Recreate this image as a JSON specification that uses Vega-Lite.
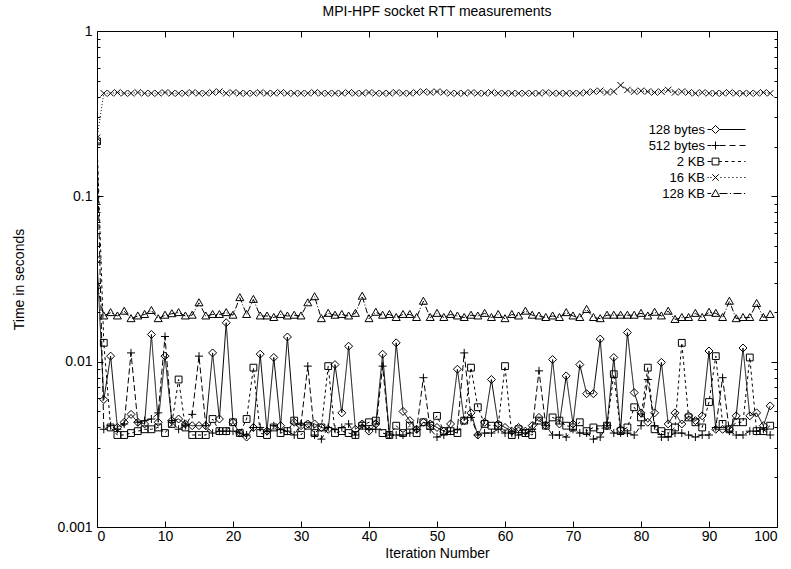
{
  "$schema": "https://vega.github.io/schema/vega-lite/v6.json",
  "width": 680,
  "height": 496,
  "autosize": {"type": "none"},
  "padding": {"left": 97, "top": 31, "right": 14, "bottom": 42},
  "background": "white",
  "title": {"text": "MPI-HPF socket RTT measurements", "font": "Liberation Sans", "fontSize": 14, "fontWeight": "normal", "color": "black", "offset": 5},
  "config": {
    "view": {"stroke": "black", "strokeWidth": 1},
    "axis": {"grid": false, "domain": false, "tickColor": "black", "labelColor": "black", "titleColor": "black", "labelFont": "Liberation Sans", "titleFont": "Liberation Sans", "labelFontSize": 14, "titleFontSize": 14, "titleFontWeight": "normal", "tickWidth": 1},
    "legend": {"labelFont": "Liberation Sans", "labelFontSize": 13, "labelColor": "black"}
  },
  "data": {"values": [
{"i":0,"s":"128 bytes","t":0.0415},{"i":1,"s":"128 bytes","t":0.0059},{"i":2,"s":"128 bytes","t":0.0108},{"i":3,"s":"128 bytes","t":0.0040},{"i":4,"s":"128 bytes","t":0.0043},{"i":5,"s":"128 bytes","t":0.0048},{"i":6,"s":"128 bytes","t":0.0043},{"i":7,"s":"128 bytes","t":0.0042},{"i":8,"s":"128 bytes","t":0.0146},{"i":9,"s":"128 bytes","t":0.0043},
{"i":10,"s":"128 bytes","t":0.0108},{"i":11,"s":"128 bytes","t":0.0044},{"i":12,"s":"128 bytes","t":0.0045},{"i":13,"s":"128 bytes","t":0.0042},{"i":14,"s":"128 bytes","t":0.0041},{"i":15,"s":"128 bytes","t":0.0041},{"i":16,"s":"128 bytes","t":0.0041},{"i":17,"s":"128 bytes","t":0.0113},{"i":18,"s":"128 bytes","t":0.0045},{"i":19,"s":"128 bytes","t":0.0172},
{"i":20,"s":"128 bytes","t":0.0043},{"i":21,"s":"128 bytes","t":0.0037},{"i":22,"s":"128 bytes","t":0.0035},{"i":23,"s":"128 bytes","t":0.0040},{"i":24,"s":"128 bytes","t":0.0111},{"i":25,"s":"128 bytes","t":0.0038},{"i":26,"s":"128 bytes","t":0.0106},{"i":27,"s":"128 bytes","t":0.0041},{"i":28,"s":"128 bytes","t":0.0141},{"i":29,"s":"128 bytes","t":0.0043},
{"i":30,"s":"128 bytes","t":0.0041},{"i":31,"s":"128 bytes","t":0.0042},{"i":32,"s":"128 bytes","t":0.0042},{"i":33,"s":"128 bytes","t":0.0040},{"i":34,"s":"128 bytes","t":0.0039},{"i":35,"s":"128 bytes","t":0.0096},{"i":36,"s":"128 bytes","t":0.0049},{"i":37,"s":"128 bytes","t":0.0124},{"i":38,"s":"128 bytes","t":0.0039},{"i":39,"s":"128 bytes","t":0.0042},
{"i":40,"s":"128 bytes","t":0.0038},{"i":41,"s":"128 bytes","t":0.0042},{"i":42,"s":"128 bytes","t":0.0111},{"i":43,"s":"128 bytes","t":0.0036},{"i":44,"s":"128 bytes","t":0.0130},{"i":45,"s":"128 bytes","t":0.0050},{"i":46,"s":"128 bytes","t":0.0044},{"i":47,"s":"128 bytes","t":0.0039},{"i":48,"s":"128 bytes","t":0.0043},{"i":49,"s":"128 bytes","t":0.0042},
{"i":50,"s":"128 bytes","t":0.0040},{"i":51,"s":"128 bytes","t":0.0038},{"i":52,"s":"128 bytes","t":0.0042},{"i":53,"s":"128 bytes","t":0.0090},{"i":54,"s":"128 bytes","t":0.0044},{"i":55,"s":"128 bytes","t":0.0049},{"i":56,"s":"128 bytes","t":0.0036},{"i":57,"s":"128 bytes","t":0.0043},{"i":58,"s":"128 bytes","t":0.0078},{"i":59,"s":"128 bytes","t":0.0042},
{"i":60,"s":"128 bytes","t":0.0040},{"i":61,"s":"128 bytes","t":0.0038},{"i":62,"s":"128 bytes","t":0.0040},{"i":63,"s":"128 bytes","t":0.0038},{"i":64,"s":"128 bytes","t":0.0041},{"i":65,"s":"128 bytes","t":0.0046},{"i":66,"s":"128 bytes","t":0.0041},{"i":67,"s":"128 bytes","t":0.0103},{"i":68,"s":"128 bytes","t":0.0042},{"i":69,"s":"128 bytes","t":0.0082},
{"i":70,"s":"128 bytes","t":0.0042},{"i":71,"s":"128 bytes","t":0.0096},{"i":72,"s":"128 bytes","t":0.0064},{"i":73,"s":"128 bytes","t":0.0064},{"i":74,"s":"128 bytes","t":0.0137},{"i":75,"s":"128 bytes","t":0.0041},{"i":76,"s":"128 bytes","t":0.0106},{"i":77,"s":"128 bytes","t":0.0039},{"i":78,"s":"128 bytes","t":0.0150},{"i":79,"s":"128 bytes","t":0.0065},
{"i":80,"s":"128 bytes","t":0.0049},{"i":81,"s":"128 bytes","t":0.0043},{"i":82,"s":"128 bytes","t":0.0049},{"i":83,"s":"128 bytes","t":0.0099},{"i":84,"s":"128 bytes","t":0.0042},{"i":85,"s":"128 bytes","t":0.0049},{"i":86,"s":"128 bytes","t":0.0042},{"i":87,"s":"128 bytes","t":0.0047},{"i":88,"s":"128 bytes","t":0.0044},{"i":89,"s":"128 bytes","t":0.0047},
{"i":90,"s":"128 bytes","t":0.0116},{"i":91,"s":"128 bytes","t":0.0039},{"i":92,"s":"128 bytes","t":0.0039},{"i":93,"s":"128 bytes","t":0.0039},{"i":94,"s":"128 bytes","t":0.0047},{"i":95,"s":"128 bytes","t":0.0121},{"i":96,"s":"128 bytes","t":0.0047},{"i":97,"s":"128 bytes","t":0.0049},{"i":98,"s":"128 bytes","t":0.0041},{"i":99,"s":"128 bytes","t":0.0054},
{"i":0,"s":"512 bytes","t":0.21},{"i":1,"s":"512 bytes","t":0.0039},{"i":2,"s":"512 bytes","t":0.0041},{"i":3,"s":"512 bytes","t":0.0039},{"i":4,"s":"512 bytes","t":0.0042},{"i":5,"s":"512 bytes","t":0.0113},{"i":6,"s":"512 bytes","t":0.0043},{"i":7,"s":"512 bytes","t":0.0044},{"i":8,"s":"512 bytes","t":0.0045},{"i":9,"s":"512 bytes","t":0.0049},
{"i":10,"s":"512 bytes","t":0.0142},{"i":11,"s":"512 bytes","t":0.0043},{"i":12,"s":"512 bytes","t":0.0039},{"i":13,"s":"512 bytes","t":0.0041},{"i":14,"s":"512 bytes","t":0.0048},{"i":15,"s":"512 bytes","t":0.0108},{"i":16,"s":"512 bytes","t":0.0041},{"i":17,"s":"512 bytes","t":0.0037},{"i":18,"s":"512 bytes","t":0.0038},{"i":19,"s":"512 bytes","t":0.0038},
{"i":20,"s":"512 bytes","t":0.0038},{"i":21,"s":"512 bytes","t":0.0037},{"i":22,"s":"512 bytes","t":0.0036},{"i":23,"s":"512 bytes","t":0.0040},{"i":24,"s":"512 bytes","t":0.0040},{"i":25,"s":"512 bytes","t":0.0038},{"i":26,"s":"512 bytes","t":0.0041},{"i":27,"s":"512 bytes","t":0.0039},{"i":28,"s":"512 bytes","t":0.0038},{"i":29,"s":"512 bytes","t":0.0036},
{"i":30,"s":"512 bytes","t":0.0042},{"i":31,"s":"512 bytes","t":0.0094},{"i":32,"s":"512 bytes","t":0.0036},{"i":33,"s":"512 bytes","t":0.0034},{"i":34,"s":"512 bytes","t":0.0040},{"i":35,"s":"512 bytes","t":0.0039},{"i":36,"s":"512 bytes","t":0.0040},{"i":37,"s":"512 bytes","t":0.0042},{"i":38,"s":"512 bytes","t":0.0036},{"i":39,"s":"512 bytes","t":0.0041},
{"i":40,"s":"512 bytes","t":0.0039},{"i":41,"s":"512 bytes","t":0.0039},{"i":42,"s":"512 bytes","t":0.0094},{"i":43,"s":"512 bytes","t":0.0036},{"i":44,"s":"512 bytes","t":0.0036},{"i":45,"s":"512 bytes","t":0.0036},{"i":46,"s":"512 bytes","t":0.0037},{"i":47,"s":"512 bytes","t":0.0039},{"i":48,"s":"512 bytes","t":0.0080},{"i":49,"s":"512 bytes","t":0.0039},
{"i":50,"s":"512 bytes","t":0.0035},{"i":51,"s":"512 bytes","t":0.0036},{"i":52,"s":"512 bytes","t":0.0038},{"i":53,"s":"512 bytes","t":0.0039},{"i":54,"s":"512 bytes","t":0.0113},{"i":55,"s":"512 bytes","t":0.0046},{"i":56,"s":"512 bytes","t":0.0036},{"i":57,"s":"512 bytes","t":0.0037},{"i":58,"s":"512 bytes","t":0.0037},{"i":59,"s":"512 bytes","t":0.0039},
{"i":60,"s":"512 bytes","t":0.0037},{"i":61,"s":"512 bytes","t":0.0037},{"i":62,"s":"512 bytes","t":0.0036},{"i":63,"s":"512 bytes","t":0.0037},{"i":64,"s":"512 bytes","t":0.0039},{"i":65,"s":"512 bytes","t":0.0088},{"i":66,"s":"512 bytes","t":0.0041},{"i":67,"s":"512 bytes","t":0.0036},{"i":68,"s":"512 bytes","t":0.0036},{"i":69,"s":"512 bytes","t":0.0035},
{"i":70,"s":"512 bytes","t":0.0039},{"i":71,"s":"512 bytes","t":0.0037},{"i":72,"s":"512 bytes","t":0.0037},{"i":73,"s":"512 bytes","t":0.0034},{"i":74,"s":"512 bytes","t":0.0035},{"i":75,"s":"512 bytes","t":0.0041},{"i":76,"s":"512 bytes","t":0.0037},{"i":77,"s":"512 bytes","t":0.0037},{"i":78,"s":"512 bytes","t":0.0037},{"i":79,"s":"512 bytes","t":0.0036},
{"i":80,"s":"512 bytes","t":0.0041},{"i":81,"s":"512 bytes","t":0.0078},{"i":82,"s":"512 bytes","t":0.0041},{"i":83,"s":"512 bytes","t":0.0035},{"i":84,"s":"512 bytes","t":0.0035},{"i":85,"s":"512 bytes","t":0.0037},{"i":86,"s":"512 bytes","t":0.0037},{"i":87,"s":"512 bytes","t":0.0036},{"i":88,"s":"512 bytes","t":0.0035},{"i":89,"s":"512 bytes","t":0.0036},
{"i":90,"s":"512 bytes","t":0.0036},{"i":91,"s":"512 bytes","t":0.0040},{"i":92,"s":"512 bytes","t":0.0080},{"i":93,"s":"512 bytes","t":0.0038},{"i":94,"s":"512 bytes","t":0.0036},{"i":95,"s":"512 bytes","t":0.0036},{"i":96,"s":"512 bytes","t":0.0038},{"i":97,"s":"512 bytes","t":0.0038},{"i":98,"s":"512 bytes","t":0.0039},{"i":99,"s":"512 bytes","t":0.0036},
{"i":0,"s":"2 KB","t":0.215},{"i":1,"s":"2 KB","t":0.0130},{"i":2,"s":"2 KB","t":0.0040},{"i":3,"s":"2 KB","t":0.0036},{"i":4,"s":"2 KB","t":0.0036},{"i":5,"s":"2 KB","t":0.0037},{"i":6,"s":"2 KB","t":0.0038},{"i":7,"s":"2 KB","t":0.0039},{"i":8,"s":"2 KB","t":0.0039},{"i":9,"s":"2 KB","t":0.0040},
{"i":10,"s":"2 KB","t":0.0037},{"i":11,"s":"2 KB","t":0.0042},{"i":12,"s":"2 KB","t":0.0078},{"i":13,"s":"2 KB","t":0.0040},{"i":14,"s":"2 KB","t":0.0036},{"i":15,"s":"2 KB","t":0.0036},{"i":16,"s":"2 KB","t":0.0036},{"i":17,"s":"2 KB","t":0.0045},{"i":18,"s":"2 KB","t":0.0038},{"i":19,"s":"2 KB","t":0.0038},
{"i":20,"s":"2 KB","t":0.0043},{"i":21,"s":"2 KB","t":0.0037},{"i":22,"s":"2 KB","t":0.0045},{"i":23,"s":"2 KB","t":0.0092},{"i":24,"s":"2 KB","t":0.0037},{"i":25,"s":"2 KB","t":0.0036},{"i":26,"s":"2 KB","t":0.0040},{"i":27,"s":"2 KB","t":0.0037},{"i":28,"s":"2 KB","t":0.0038},{"i":29,"s":"2 KB","t":0.0044},
{"i":30,"s":"2 KB","t":0.0036},{"i":31,"s":"2 KB","t":0.0041},{"i":32,"s":"2 KB","t":0.0037},{"i":33,"s":"2 KB","t":0.0040},{"i":34,"s":"2 KB","t":0.0094},{"i":35,"s":"2 KB","t":0.0037},{"i":36,"s":"2 KB","t":0.0038},{"i":37,"s":"2 KB","t":0.0037},{"i":38,"s":"2 KB","t":0.0036},{"i":39,"s":"2 KB","t":0.0041},
{"i":40,"s":"2 KB","t":0.0043},{"i":41,"s":"2 KB","t":0.0044},{"i":42,"s":"2 KB","t":0.0037},{"i":43,"s":"2 KB","t":0.0036},{"i":44,"s":"2 KB","t":0.0041},{"i":45,"s":"2 KB","t":0.0037},{"i":46,"s":"2 KB","t":0.0041},{"i":47,"s":"2 KB","t":0.0037},{"i":48,"s":"2 KB","t":0.0043},{"i":49,"s":"2 KB","t":0.0041},
{"i":50,"s":"2 KB","t":0.0047},{"i":51,"s":"2 KB","t":0.0038},{"i":52,"s":"2 KB","t":0.0038},{"i":53,"s":"2 KB","t":0.0037},{"i":54,"s":"2 KB","t":0.0044},{"i":55,"s":"2 KB","t":0.0092},{"i":56,"s":"2 KB","t":0.0053},{"i":57,"s":"2 KB","t":0.0042},{"i":58,"s":"2 KB","t":0.0041},{"i":59,"s":"2 KB","t":0.0041},
{"i":60,"s":"2 KB","t":0.0094},{"i":61,"s":"2 KB","t":0.0036},{"i":62,"s":"2 KB","t":0.0039},{"i":63,"s":"2 KB","t":0.0037},{"i":64,"s":"2 KB","t":0.0036},{"i":65,"s":"2 KB","t":0.0044},{"i":66,"s":"2 KB","t":0.0041},{"i":67,"s":"2 KB","t":0.0046},{"i":68,"s":"2 KB","t":0.0044},{"i":69,"s":"2 KB","t":0.0041},
{"i":70,"s":"2 KB","t":0.0040},{"i":71,"s":"2 KB","t":0.0043},{"i":72,"s":"2 KB","t":0.0038},{"i":73,"s":"2 KB","t":0.0040},{"i":74,"s":"2 KB","t":0.0039},{"i":75,"s":"2 KB","t":0.0041},{"i":76,"s":"2 KB","t":0.0084},{"i":77,"s":"2 KB","t":0.0038},{"i":78,"s":"2 KB","t":0.0040},{"i":79,"s":"2 KB","t":0.0053},
{"i":80,"s":"2 KB","t":0.0046},{"i":81,"s":"2 KB","t":0.0092},{"i":82,"s":"2 KB","t":0.0039},{"i":83,"s":"2 KB","t":0.0038},{"i":84,"s":"2 KB","t":0.0037},{"i":85,"s":"2 KB","t":0.0040},{"i":86,"s":"2 KB","t":0.0130},{"i":87,"s":"2 KB","t":0.0046},{"i":88,"s":"2 KB","t":0.0043},{"i":89,"s":"2 KB","t":0.0040},
{"i":90,"s":"2 KB","t":0.0057},{"i":91,"s":"2 KB","t":0.0108},{"i":92,"s":"2 KB","t":0.0042},{"i":93,"s":"2 KB","t":0.0039},{"i":94,"s":"2 KB","t":0.0043},{"i":95,"s":"2 KB","t":0.0043},{"i":96,"s":"2 KB","t":0.0106},{"i":97,"s":"2 KB","t":0.0038},{"i":98,"s":"2 KB","t":0.0038},{"i":99,"s":"2 KB","t":0.0041},
{"i":0,"s":"16 KB","t":0.226},{"i":1,"s":"16 KB","t":0.42},{"i":2,"s":"16 KB","t":0.42},{"i":3,"s":"16 KB","t":0.425},{"i":4,"s":"16 KB","t":0.42},{"i":5,"s":"16 KB","t":0.42},{"i":6,"s":"16 KB","t":0.425},{"i":7,"s":"16 KB","t":0.42},{"i":8,"s":"16 KB","t":0.42},{"i":9,"s":"16 KB","t":0.42},
{"i":10,"s":"16 KB","t":0.425},{"i":11,"s":"16 KB","t":0.42},{"i":12,"s":"16 KB","t":0.42},{"i":13,"s":"16 KB","t":0.42},{"i":14,"s":"16 KB","t":0.425},{"i":15,"s":"16 KB","t":0.42},{"i":16,"s":"16 KB","t":0.42},{"i":17,"s":"16 KB","t":0.425},{"i":18,"s":"16 KB","t":0.43},{"i":19,"s":"16 KB","t":0.42},
{"i":20,"s":"16 KB","t":0.425},{"i":21,"s":"16 KB","t":0.42},{"i":22,"s":"16 KB","t":0.42},{"i":23,"s":"16 KB","t":0.42},{"i":24,"s":"16 KB","t":0.425},{"i":25,"s":"16 KB","t":0.42},{"i":26,"s":"16 KB","t":0.42},{"i":27,"s":"16 KB","t":0.425},{"i":28,"s":"16 KB","t":0.42},{"i":29,"s":"16 KB","t":0.42},
{"i":30,"s":"16 KB","t":0.42},{"i":31,"s":"16 KB","t":0.42},{"i":32,"s":"16 KB","t":0.425},{"i":33,"s":"16 KB","t":0.42},{"i":34,"s":"16 KB","t":0.42},{"i":35,"s":"16 KB","t":0.42},{"i":36,"s":"16 KB","t":0.42},{"i":37,"s":"16 KB","t":0.425},{"i":38,"s":"16 KB","t":0.42},{"i":39,"s":"16 KB","t":0.42},
{"i":40,"s":"16 KB","t":0.425},{"i":41,"s":"16 KB","t":0.42},{"i":42,"s":"16 KB","t":0.42},{"i":43,"s":"16 KB","t":0.42},{"i":44,"s":"16 KB","t":0.425},{"i":45,"s":"16 KB","t":0.42},{"i":46,"s":"16 KB","t":0.42},{"i":47,"s":"16 KB","t":0.425},{"i":48,"s":"16 KB","t":0.43},{"i":49,"s":"16 KB","t":0.425},
{"i":50,"s":"16 KB","t":0.43},{"i":51,"s":"16 KB","t":0.425},{"i":52,"s":"16 KB","t":0.42},{"i":53,"s":"16 KB","t":0.42},{"i":54,"s":"16 KB","t":0.42},{"i":55,"s":"16 KB","t":0.425},{"i":56,"s":"16 KB","t":0.42},{"i":57,"s":"16 KB","t":0.42},{"i":58,"s":"16 KB","t":0.425},{"i":59,"s":"16 KB","t":0.42},
{"i":60,"s":"16 KB","t":0.42},{"i":61,"s":"16 KB","t":0.42},{"i":62,"s":"16 KB","t":0.42},{"i":63,"s":"16 KB","t":0.42},{"i":64,"s":"16 KB","t":0.42},{"i":65,"s":"16 KB","t":0.42},{"i":66,"s":"16 KB","t":0.425},{"i":67,"s":"16 KB","t":0.42},{"i":68,"s":"16 KB","t":0.42},{"i":69,"s":"16 KB","t":0.42},
{"i":70,"s":"16 KB","t":0.42},{"i":71,"s":"16 KB","t":0.42},{"i":72,"s":"16 KB","t":0.425},{"i":73,"s":"16 KB","t":0.43},{"i":74,"s":"16 KB","t":0.435},{"i":75,"s":"16 KB","t":0.425},{"i":76,"s":"16 KB","t":0.43},{"i":77,"s":"16 KB","t":0.47},{"i":78,"s":"16 KB","t":0.44},{"i":79,"s":"16 KB","t":0.43},
{"i":80,"s":"16 KB","t":0.435},{"i":81,"s":"16 KB","t":0.43},{"i":82,"s":"16 KB","t":0.425},{"i":83,"s":"16 KB","t":0.43},{"i":84,"s":"16 KB","t":0.44},{"i":85,"s":"16 KB","t":0.425},{"i":86,"s":"16 KB","t":0.43},{"i":87,"s":"16 KB","t":0.425},{"i":88,"s":"16 KB","t":0.42},{"i":89,"s":"16 KB","t":0.425},
{"i":90,"s":"16 KB","t":0.42},{"i":91,"s":"16 KB","t":0.42},{"i":92,"s":"16 KB","t":0.42},{"i":93,"s":"16 KB","t":0.425},{"i":94,"s":"16 KB","t":0.42},{"i":95,"s":"16 KB","t":0.42},{"i":96,"s":"16 KB","t":0.42},{"i":97,"s":"16 KB","t":0.42},{"i":98,"s":"16 KB","t":0.425},{"i":99,"s":"16 KB","t":0.42},
{"i":0,"s":"128 KB","t":0.029},{"i":1,"s":"128 KB","t":0.0189},{"i":2,"s":"128 KB","t":0.0198},{"i":3,"s":"128 KB","t":0.0189},{"i":4,"s":"128 KB","t":0.0202},{"i":5,"s":"128 KB","t":0.0182},{"i":6,"s":"128 KB","t":0.0189},{"i":7,"s":"128 KB","t":0.0193},{"i":8,"s":"128 KB","t":0.0204},{"i":9,"s":"128 KB","t":0.0182},
{"i":10,"s":"128 KB","t":0.0191},{"i":11,"s":"128 KB","t":0.0195},{"i":12,"s":"128 KB","t":0.0198},{"i":13,"s":"128 KB","t":0.0189},{"i":14,"s":"128 KB","t":0.0191},{"i":15,"s":"128 KB","t":0.0227},{"i":16,"s":"128 KB","t":0.0189},{"i":17,"s":"128 KB","t":0.0193},{"i":18,"s":"128 KB","t":0.0193},{"i":19,"s":"128 KB","t":0.0198},
{"i":20,"s":"128 KB","t":0.0191},{"i":21,"s":"128 KB","t":0.0244},{"i":22,"s":"128 KB","t":0.0193},{"i":23,"s":"128 KB","t":0.0238},{"i":24,"s":"128 KB","t":0.0189},{"i":25,"s":"128 KB","t":0.0189},{"i":26,"s":"128 KB","t":0.0185},{"i":27,"s":"128 KB","t":0.0193},{"i":28,"s":"128 KB","t":0.0189},{"i":29,"s":"128 KB","t":0.0191},
{"i":30,"s":"128 KB","t":0.0189},{"i":31,"s":"128 KB","t":0.0227},{"i":32,"s":"128 KB","t":0.0247},{"i":33,"s":"128 KB","t":0.0182},{"i":34,"s":"128 KB","t":0.0196},{"i":35,"s":"128 KB","t":0.0191},{"i":36,"s":"128 KB","t":0.0193},{"i":37,"s":"128 KB","t":0.0189},{"i":38,"s":"128 KB","t":0.0196},{"i":39,"s":"128 KB","t":0.0249},
{"i":40,"s":"128 KB","t":0.0182},{"i":41,"s":"128 KB","t":0.0199},{"i":42,"s":"128 KB","t":0.0191},{"i":43,"s":"128 KB","t":0.0193},{"i":44,"s":"128 KB","t":0.0185},{"i":45,"s":"128 KB","t":0.0193},{"i":46,"s":"128 KB","t":0.0193},{"i":47,"s":"128 KB","t":0.0185},{"i":48,"s":"128 KB","t":0.0232},{"i":49,"s":"128 KB","t":0.0185},
{"i":50,"s":"128 KB","t":0.0196},{"i":51,"s":"128 KB","t":0.0185},{"i":52,"s":"128 KB","t":0.0193},{"i":53,"s":"128 KB","t":0.0189},{"i":54,"s":"128 KB","t":0.0185},{"i":55,"s":"128 KB","t":0.0191},{"i":56,"s":"128 KB","t":0.0189},{"i":57,"s":"128 KB","t":0.0196},{"i":58,"s":"128 KB","t":0.0185},{"i":59,"s":"128 KB","t":0.0193},
{"i":60,"s":"128 KB","t":0.0182},{"i":61,"s":"128 KB","t":0.0193},{"i":62,"s":"128 KB","t":0.0189},{"i":63,"s":"128 KB","t":0.0202},{"i":64,"s":"128 KB","t":0.0191},{"i":65,"s":"128 KB","t":0.0189},{"i":66,"s":"128 KB","t":0.0185},{"i":67,"s":"128 KB","t":0.0189},{"i":68,"s":"128 KB","t":0.0185},{"i":69,"s":"128 KB","t":0.0198},
{"i":70,"s":"128 KB","t":0.0189},{"i":71,"s":"128 KB","t":0.0185},{"i":72,"s":"128 KB","t":0.0207},{"i":73,"s":"128 KB","t":0.0185},{"i":74,"s":"128 KB","t":0.0182},{"i":75,"s":"128 KB","t":0.0191},{"i":76,"s":"128 KB","t":0.0191},{"i":77,"s":"128 KB","t":0.0191},{"i":78,"s":"128 KB","t":0.0191},{"i":79,"s":"128 KB","t":0.0191},
{"i":80,"s":"128 KB","t":0.0196},{"i":81,"s":"128 KB","t":0.0189},{"i":82,"s":"128 KB","t":0.0199},{"i":83,"s":"128 KB","t":0.0189},{"i":84,"s":"128 KB","t":0.0202},{"i":85,"s":"128 KB","t":0.0180},{"i":86,"s":"128 KB","t":0.0185},{"i":87,"s":"128 KB","t":0.0185},{"i":88,"s":"128 KB","t":0.0196},{"i":89,"s":"128 KB","t":0.0185},
{"i":90,"s":"128 KB","t":0.0199},{"i":91,"s":"128 KB","t":0.0196},{"i":92,"s":"128 KB","t":0.0185},{"i":93,"s":"128 KB","t":0.0232},{"i":94,"s":"128 KB","t":0.0182},{"i":95,"s":"128 KB","t":0.0185},{"i":96,"s":"128 KB","t":0.0185},{"i":97,"s":"128 KB","t":0.0225},{"i":98,"s":"128 KB","t":0.0185},{"i":99,"s":"128 KB","t":0.0193}
  ]},
  "resolve": {"axis": {"x": "independent", "y": "independent"}, "scale": {"shape": "independent"}},
  "layer": [
    {
      "mark": {"type": "line", "color": "black", "strokeWidth": 1, "clip": true},
      "encoding": {
        "x": {"field": "i", "type": "quantitative", "scale": {"domain": [0, 100], "nice": false, "zero": false},
              "axis": {"orient": "bottom", "values": [0,10,20,30,40,50,60,70,80,90,100], "tickSize": -6, "labelPadding": 8, "title": "Iteration Number", "titlePadding": 3}},
        "y": {"field": "t", "type": "quantitative", "scale": {"type": "log", "domain": [0.001, 1], "nice": false},
              "axis": {"orient": "left", "values": [0.001, 0.01, 0.1, 1], "format": "~g", "tickSize": -6, "labelPadding": 11, "title": "Time in seconds", "titlePadding": 30}},
        "strokeDash": {"field": "s", "type": "nominal", "sort": ["128 bytes", "512 bytes", "2 KB", "16 KB", "128 KB"],
              "scale": {"range": [[1, 0], [6, 3], [3, 3], [1, 2], [6, 2, 1, 2]]}, "legend": null}
      }
    },
    {
      "mark": {"type": "point", "filled": false, "color": "black", "size": 64, "strokeWidth": 1, "opacity": 1, "clip": true},
      "encoding": {
        "x": {"field": "i", "type": "quantitative", "axis": {"orient": "top", "values": [0,10,20,30,40,50,60,70,80,90,100], "tickSize": -6, "labels": false, "title": null}},
        "y": {"field": "t", "type": "quantitative", "axis": {"orient": "right", "values": [0.001, 0.01, 0.1, 1], "tickSize": -6, "labels": false, "title": null}},
        "shape": {"field": "s", "type": "nominal", "sort": ["128 bytes", "512 bytes", "2 KB", "16 KB", "128 KB"],
          "scale": {"range": ["M0,-1L1,0L0,1L-1,0Z", "M-1,0L1,0M0,-1L0,1", "M-0.85,-0.85L0.85,-0.85L0.85,0.85L-0.85,0.85Z", "M-0.8,-0.8L0.8,0.8M-0.8,0.8L0.8,-0.8", "M0,-1L1,0.75L-1,0.75Z"]},
          "legend": null}
      }
    },
    {
      "mark": {"type": "point", "opacity": 0, "filled": false, "color": "black", "size": 64},
      "encoding": {
        "x": {"field": "i", "type": "quantitative", "axis": null},
        "y": {"field": "t", "type": "quantitative", "axis": {"orient": "left", "values": [0.002,0.003,0.004,0.005,0.006,0.007,0.008,0.009,0.02,0.03,0.04,0.05,0.06,0.07,0.08,0.09,0.2,0.3,0.4,0.5,0.6,0.7,0.8,0.9], "tickSize": -3, "labels": false, "title": null}},
        "shape": {"field": "s", "type": "nominal",
          "scale": {"domain": ["128 bytes", "512 bytes", "2 KB", "16 KB", "128 KB"],
                    "range": ["M-2,0L-1.1,0M1,0L7.5,0M0,-1L1,0L0,1L-1,0Z", "M-2,0L-1.1,0M1,0L2.5,0M3.5,0L5,0M6,0L7.5,0M-1,0L1,0M0,-1L0,1", "M-2,0L-1,0M0.85,0L1.6,0M2.4,0L3.2,0M4,0L4.8,0M5.6,0L6.4,0M7.2,0L7.5,0M-0.85,-0.85L0.85,-0.85L0.85,0.85L-0.85,0.85Z", "M-2,0L-1.7,0M-1.3,0L-1,0M1.2,0L1.5,0M2.2,0L2.5,0M3.2,0L3.5,0M4.2,0L4.5,0M5.2,0L5.5,0M6.2,0L6.5,0M7.2,0L7.5,0M-0.8,-0.8L0.8,0.8M-0.8,0.8L0.8,-0.8", "M-2,0L-1.1,0M1,0L3,0M3.6,0L3.9,0M4.5,0L6.5,0M7.1,0L7.4,0M0,-1L1,0.75L-1,0.75Z"]},
          "legend": {"title": null, "orient": "none", "legendX": 612, "legendY": 92, "symbolSize": 64, "symbolStrokeColor": "black", "symbolFillColor": "transparent", "symbolStrokeWidth": 1, "symbolOpacity": 1, "labelAlign": "right", "labelOffset": -17, "rowPadding": 2}}
      }
    },
    {
      "mark": {"type": "point", "opacity": 0},
      "encoding": {
        "x": {"field": "i", "type": "quantitative", "axis": null},
        "y": {"field": "t", "type": "quantitative", "axis": {"orient": "right", "values": [0.002,0.003,0.004,0.005,0.006,0.007,0.008,0.009,0.02,0.03,0.04,0.05,0.06,0.07,0.08,0.09,0.2,0.3,0.4,0.5,0.6,0.7,0.8,0.9], "tickSize": -3, "labels": false, "title": null}}
      }
    }
  ]
}
